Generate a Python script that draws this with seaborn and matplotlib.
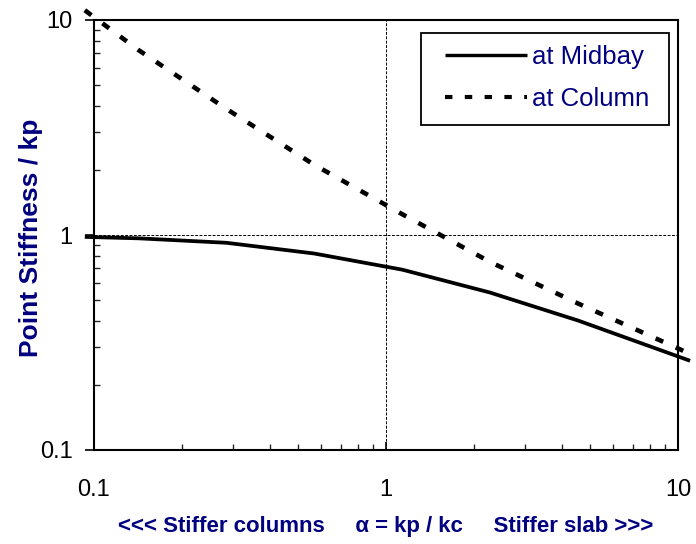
import matplotlib
matplotlib.use("Agg")
import matplotlib.pyplot as plt
import matplotlib.ticker as mticker
from matplotlib.patches import Rectangle
import numpy as np
import pandas as pd
import seaborn as sns

# ---- data ----
alpha = [0.093, 0.142, 0.284, 0.568, 1.136, 2.27, 4.55, 11.0]
midbay = [0.98, 0.965, 0.92, 0.82, 0.69, 0.54, 0.40, 0.26]
column = [11.1, 7.25, 3.86, 2.12, 1.25, 0.75, 0.48, 0.28]
series_names = ["at Midbay", "at Column"]
x_ticks = [0.1, 1, 10]
x_tick_labels = ["0.1", "1", "10"]
y_ticks = [0.1, 1, 10]
y_tick_labels = ["0.1", "1", "10"]
x_label = "<<< Stiffer columns     \u03b1 = kp / kc     Stiffer slab >>>"
y_label = "Point Stiffness / kp"

df = pd.DataFrame({
    "alpha": alpha * 2,
    "k": midbay + column,
    "series": [series_names[0]] * len(alpha) + [series_names[1]] * len(alpha),
})

sns.set_style("white")
plt.rcParams["font.family"] = ["Liberation Sans", "DejaVu Sans"]

navy = "#000080"
fig = plt.figure(figsize=(6.96, 5.44), dpi=100)
ax = fig.add_axes([94 / 696, 1 - 450 / 544, (678 - 94) / 696, (450 - 20) / 544])

sns.lineplot(data=df, x="alpha", y="k", style="series", style_order=series_names,
             dashes={series_names[0]: "", series_names[1]: (1.8, 3.0)},
             color="black", linewidth=2.7, ax=ax, sort=False, estimator=None,
             legend=True)
lines = ax.get_lines()
for ln in lines:
    ln.set_clip_on(False)
    ln.set_solid_capstyle("butt")
    ln.set_dash_capstyle("butt")
    if ln.get_linestyle() not in ("-", "solid"):
        ln.set_linewidth(3.3)

ax.set_xscale("log")
ax.set_yscale("log")
ax.set_xlim(0.1, 10)
ax.set_ylim(0.1, 10)

# reference lines at 1
ax.axvline(1, color="black", lw=0.7, ls=(0, (3, 1.5)), zorder=0.5)
ax.axhline(1, color="black", lw=0.7, ls=(0, (3, 1.5)), zorder=0.5)

ax.set_xticks(x_ticks)
ax.set_xticklabels(x_tick_labels)
ax.set_yticks(y_ticks)
ax.set_yticklabels(y_tick_labels)
ax.xaxis.set_minor_locator(mticker.LogLocator(base=10, subs=np.arange(2, 10)))
ax.yaxis.set_minor_locator(mticker.LogLocator(base=10, subs=np.arange(2, 10)))
ax.xaxis.set_minor_formatter(mticker.NullFormatter())
ax.yaxis.set_minor_formatter(mticker.NullFormatter())

ax.tick_params(axis="x", which="major", direction="in", length=6, width=1.2,
               labelsize=17, pad=21, colors="black", bottom=True)
ax.tick_params(axis="x", which="minor", direction="in", length=4, width=1.0, bottom=True)
ax.tick_params(axis="y", which="major", direction="out", length=6.5, width=1.2,
               labelsize=17, pad=9, colors="black", left=True)
ax.tick_params(axis="y", which="minor", direction="in", length=4.5, width=1.0, left=True)

for s in ax.spines.values():
    s.set_color("black")
    s.set_linewidth(1.5)
    s.set_visible(True)

ax.set_xlabel(x_label, fontsize=16, fontweight="bold", color=navy)
ax.xaxis.set_label_coords(0.5, -0.153)
ax.set_ylabel(y_label, fontsize=19, fontweight="bold", color=navy)
ax.yaxis.set_label_coords(-0.088, 0.494)

# legend frame (drawn separately to match the uneven padding of the reference)
ax.add_patch(Rectangle((0.560, 0.756), 0.9846 - 0.560, 0.970 - 0.756,
                       transform=ax.transAxes, facecolor="white", edgecolor="black",
                       lw=1.3, zorder=4))
handles, labels = ax.get_legend_handles_labels()
leg = ax.legend(handles, labels, loc="upper left", bbox_to_anchor=(0.601, 0.941),
                borderaxespad=0, borderpad=0, fontsize=18.5, labelcolor=navy,
                frameon=False, handlelength=3.2, handletextpad=0.2,
                labelspacing=0.68)
leg.set_zorder(5)
for h, src in zip(leg.get_lines(), lines):
    h.set_linewidth(src.get_linewidth() * 0.9)

fig.savefig("out.png", dpi=100)
